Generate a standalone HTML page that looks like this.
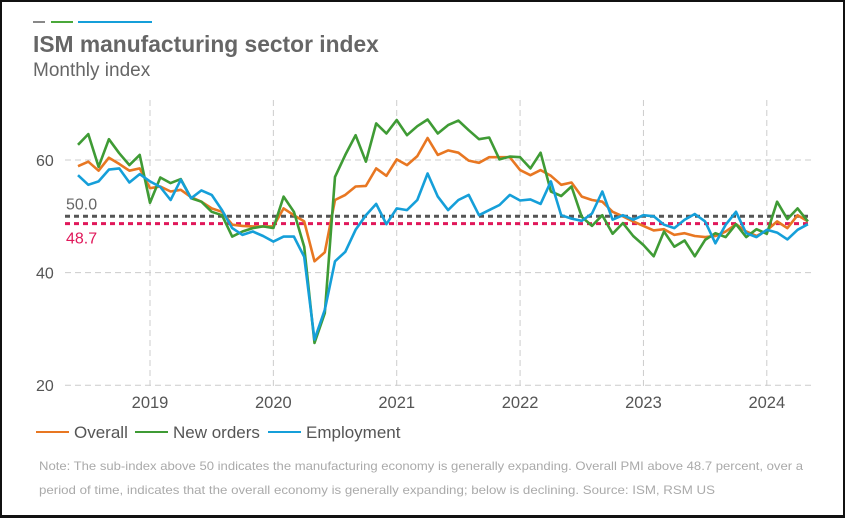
<!DOCTYPE html>
<html><head><meta charset="utf-8"><style>
body{margin:0;background:#fff;}
#wrap{position:relative;width:845px;height:518px;box-sizing:border-box;border:2px solid #111;border-bottom-width:3px;background:#fff;font-family:"Liberation Sans",sans-serif;overflow:hidden;}
svg{position:absolute;left:-2px;top:-2px;}
</style></head><body>
<div id="wrap">
<svg id="chart" width="845" height="518"></svg>
</div>
<script>
const months = []; // Jun 2018 .. May 2024
for (let i = 0; i < 72; i++) months.push(i - 7); // months relative to Jan 2019
const overall = [58.9,59.7,58.1,60.4,59.3,58.1,58.5,55.0,55.3,54.4,54.7,53.4,52.6,51.4,50.8,48.5,48.3,48.2,48.2,48.2,51.4,50.2,49.1,42.0,43.6,52.9,53.8,55.3,55.4,58.5,57.2,60.1,59.1,60.7,63.9,60.9,61.7,61.3,59.9,59.5,60.5,60.5,60.5,58.2,57.3,58.2,57.2,55.6,56.0,53.5,52.9,52.6,50.8,50.0,49.1,48.3,47.5,47.7,46.7,47.0,46.5,46.3,46.5,47.3,48.6,47.3,46.5,47.5,49.1,47.9,50.2,49.1];
const newOrders = [62.7,64.6,58.8,63.7,61.2,59.1,60.9,52.4,56.9,55.9,56.6,53.2,52.6,50.8,50.2,46.4,47.3,47.9,48.2,47.9,53.5,50.8,44.6,27.5,32.8,57.0,60.9,64.4,59.7,66.5,64.7,67.1,64.4,66.0,67.2,64.7,66.2,67.0,65.3,63.7,64.0,60.1,60.6,60.5,58.5,61.3,54.4,53.6,55.3,49.9,48.3,50.2,46.9,48.8,46.5,44.9,42.9,47.3,44.6,45.7,42.9,45.8,47.0,46.3,48.6,46.3,47.7,46.9,52.6,49.5,51.4,49.1];
const employment = [57.3,55.6,56.2,58.3,58.5,56.0,57.5,56.2,55.2,52.9,56.5,53.2,54.6,53.8,51.1,47.9,46.7,47.3,46.5,45.5,46.4,46.4,42.8,28.1,33.4,42.0,43.7,47.6,50.2,52.2,48.6,51.4,51.1,52.9,57.6,53.5,51.1,52.9,53.8,50.2,51.1,52.0,53.8,52.8,53.0,52.2,56.2,50.2,49.6,49.2,50.5,54.4,49.4,50.2,49.4,50.2,50.0,48.5,47.9,49.4,50.4,49.1,45.2,48.5,50.8,47.0,46.3,47.6,47.1,45.9,47.6,48.6];
const yTicks = [20,40,60];
const years = ["2019","2020","2021","2022","2023","2024"];
const refLines = [50.0,48.7];

const NS="http://www.w3.org/2000/svg";
const svg=document.getElementById('chart');
function X(m){return 150+m*10.28;}
function Y(v){return 160+(60-v)*5.63;}
function el(t,a,txt){const e=document.createElementNS(NS,t);for(const k in a)e.setAttribute(k,a[k]);if(txt!==undefined)e.textContent=txt;svg.appendChild(e);return e;}

let e;
e=el('line',{x1:33,y1:22,x2:45,y2:22,stroke:'#888','stroke-width':2});

e=el('line',{x1:51,y1:22,x2:73,y2:22,stroke:'#4aa83a','stroke-width':2});

e=el('line',{x1:78,y1:22,x2:152,y2:22,stroke:'#159fd9','stroke-width':2});

e=el('text',{x:33,y:52,'font-size':22.8,'font-weight':'bold',fill:'#666'},'ISM manufacturing sector index');

e=el('text',{x:33,y:76,'font-size':19,fill:'#666'},'Monthly index');


yTicks.forEach(t=>{
  e=el('line',{x1:65,y1:Y(t),x2:812,y2:Y(t),stroke:'#ccc','stroke-dasharray':'6,4'});
  
  e=el('text',{x:36,y:Y(t)+6,'font-size':16,fill:'#555'},String(t));
  
});
years.forEach((yr,i)=>{
  const x=X(i*12);
  e=el('line',{x1:x,y1:100,x2:x,y2:Y(20)+4,stroke:'#ccc','stroke-dasharray':'6,4'});
  
  e=el('text',{x:x,y:408,'font-size':16.5,fill:'#555','text-anchor':'middle'},yr);
  
});

e=el('line',{x1:65,y1:Y(refLines[0]),x2:812,y2:Y(refLines[0]),stroke:'#555','stroke-width':3,'stroke-dasharray':'5,4'});

e=el('line',{x1:65,y1:Y(refLines[1]),x2:812,y2:Y(refLines[1]),stroke:'#e0185a','stroke-width':3,'stroke-dasharray':'5,4'});

e=el('text',{x:66,y:Y(refLines[0])-7,'font-size':16,fill:'#666'},refLines[0].toFixed(1));

e=el('text',{x:66,y:Y(refLines[1])+20,'font-size':16,fill:'#e0185a'},refLines[1].toFixed(1));


function series(vals,color,name){
  const pts=vals.map((v,i)=>X(months[i]).toFixed(1)+','+Y(v).toFixed(1)).join(' ');
  const p=el('polyline',{points:pts,fill:'none',stroke:color,'stroke-width':2.6,'stroke-linejoin':'round'});
  
  
}
series(overall,'#e87722','line-overall');
series(newOrders,'#3f9b35','line-new-orders');
series(employment,'#159fd9','line-employment');

const leg=[['Overall','#e87722',36,'legend-overall'],['New orders','#3f9b35',135,'legend-new-orders'],['Employment','#159fd9',268,'legend-employment']];
leg.forEach(l=>{
  const x=l[2];
  e=el('line',{x1:x,y1:432,x2:x+33,y2:432,stroke:l[1],'stroke-width':2});
  
  e=el('text',{x:x+38,y:438,'font-size':17,fill:'#555'},l[0]);
  
});

e=el('text',{x:39,y:470,'font-size':12,fill:'#aaa',textLength:764,lengthAdjust:'spacingAndGlyphs'},'Note: The sub-index above 50 indicates the manufacturing economy is generally expanding. Overall PMI above 48.7 percent, over a');

e=el('text',{x:39,y:494,'font-size':12,fill:'#aaa',textLength:676,lengthAdjust:'spacingAndGlyphs'},'period of time, indicates that the overall economy is generally expanding; below is declining. Source: ISM, RSM US');

</script>
</body></html>
